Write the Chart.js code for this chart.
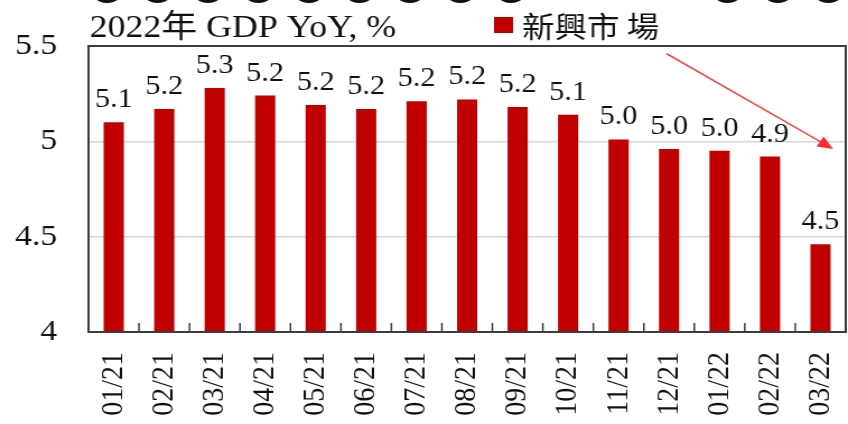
<!DOCTYPE html>
<html>
<head>
<meta charset="utf-8">
<script src="https://cdn.jsdelivr.net/npm/chart.js@4.4.1/dist/chart.umd.min.js"></script>
<style>
  html, body { margin: 0; padding: 0; background: #fff; overflow: hidden; }
  /* the source picture is a little stretched sideways, so draw narrower and widen */
  #wrap { width: 757px; height: 424px; position: relative; transform: scaleX(1.1202); transform-origin: 0 0; }
</style>
</head>
<body>
<div id="wrap"><canvas id="gdpChart"></canvas></div>
<script>
const months = ['01/21', '02/21', '03/21', '04/21', '05/21', '06/21', '07/21', '08/21',
                '09/21', '10/21', '11/21', '12/21', '01/22', '02/22', '03/22'];
const gdpYoY = [5.10, 5.17, 5.28, 5.24, 5.19, 5.17, 5.21, 5.22, 5.18, 5.14, 5.01, 4.96, 4.95, 4.92, 4.46];
const yTicks = [4, 4.5, 5, 5.5];
const titleText = '2022年 GDP YoY, %';
const seriesName = '新興市 場';
// trend arrow: [category index, value] start and end
const arrowFrom = [10.95, 5.46];
const arrowTo = [14.25, 4.96];

const serif = '"Liberation Serif", "Times New Roman", "Noto Sans CJK TC", serif';
const barRed = '#c00000';

const overlay = {
    id: 'overlay',
    afterDatasetsDraw(chart) {
        const { ctx, chartArea: a, scales: { x, y } } = chart;
        ctx.save();

        // cut-off dots of the panel above, along the top edge
        ctx.fillStyle = '#111';
        months.forEach((m, i) => {
            if (i >= 9 && i <= 11) return;
            const cx = x.getPixelForValue(i) + (i < 9 ? -6 : 7);
            ctx.beginPath();
            ctx.ellipse(cx, -14, 16, 17, 0, 0, Math.PI * 2);
            ctx.fill();
        });

        // frame
        ctx.strokeStyle = '#3c3c3c';
        ctx.lineWidth = 2;
        ctx.strokeRect(a.left, a.top, a.right - a.left, a.bottom - a.top);

        // small inner ticks between categories
        ctx.lineWidth = 1.5;
        ctx.beginPath();
        for (let i = 0; i < months.length - 1; i++) {
            const px = (x.getPixelForValue(i) + x.getPixelForValue(i + 1)) / 2;
            ctx.moveTo(px, a.bottom);
            ctx.lineTo(px, a.bottom - 9);
        }
        ctx.stroke();

        // value labels
        const meta = chart.getDatasetMeta(0);
        ctx.fillStyle = '#111';
        ctx.font = '27px ' + serif;
        ctx.textAlign = 'center';
        ctx.textBaseline = 'alphabetic';
        meta.data.forEach((bar, i) => {
            ctx.fillText(gdpYoY[i].toFixed(1), bar.x, bar.y - 15);
        });

        // trend arrow
        const x1 = x.getPixelForValue(arrowFrom[0]), y1 = y.getPixelForValue(arrowFrom[1]);
        const x2 = x.getPixelForValue(arrowTo[0]), y2 = y.getPixelForValue(arrowTo[1]);
        const ang = Math.atan2(y2 - y1, x2 - x1);
        const head = 15;
        ctx.strokeStyle = '#ff2a2a';
        ctx.fillStyle = '#ff2a2a';
        ctx.lineWidth = 1.4;
        ctx.beginPath();
        ctx.moveTo(x1, y1);
        ctx.lineTo(x2 - head * 0.8 * Math.cos(ang), y2 - head * 0.8 * Math.sin(ang));
        ctx.stroke();
        ctx.beginPath();
        ctx.moveTo(x2, y2);
        ctx.lineTo(x2 - head * Math.cos(ang - 0.4), y2 - head * Math.sin(ang - 0.4));
        ctx.lineTo(x2 - head * Math.cos(ang + 0.4), y2 - head * Math.sin(ang + 0.4));
        ctx.closePath();
        ctx.fill();

        // title and legend
        ctx.fillStyle = '#111';
        ctx.textAlign = 'left';
        ctx.font = '32px ' + serif;
        ctx.fillText(titleText, a.left + 1, 37);
        ctx.fillStyle = barRed;
        ctx.fillRect(441, 17, 17, 16);
        ctx.fillStyle = '#111';
        ctx.font = '29px "Noto Sans CJK TC", serif';
        ctx.fillText(chart.data.datasets[0].label, 466, 38);

        ctx.restore();
    }
};

new Chart(document.getElementById('gdpChart'), {
    type: 'bar',
    data: {
        labels: months,
        datasets: [{
            label: seriesName,
            data: gdpYoY,
            backgroundColor: barRed,
            borderWidth: 0,
            barPercentage: 0.4,
            categoryPercentage: 1.0
        }]
    },
    options: {
        responsive: true,
        maintainAspectRatio: false,
        animation: false,
        layout: { padding: { top: 46, right: 2, left: 0, bottom: 0 } },
        plugins: {
            legend: { display: false },
            tooltip: { enabled: false }
        },
        scales: {
            x: {
                grid: { display: false, drawTicks: false },
                border: { display: false },
                ticks: {
                    autoSkip: false,
                    minRotation: 90,
                    maxRotation: 90,
                    padding: 20,
                    color: '#111',
                    font: { family: serif, size: 28 }
                },
                afterFit: (scale) => {
                    scale.height = 92;
                    scale.paddingLeft = 0;
                    scale.paddingRight = 0;
                }
            },
            y: {
                min: yTicks[0],
                max: yTicks[yTicks.length - 1],
                afterBuildTicks: (scale) => { scale.ticks = yTicks.map(v => ({ value: v })); },
                grid: {
                    drawTicks: false,
                    color: (c) => (c.tick && (c.tick.value === 4.5 || c.tick.value === 5)) ? '#d6d6d6' : 'rgba(0,0,0,0)',
                    lineWidth: 1.5
                },
                border: { display: false },
                ticks: {
                    padding: 28,
                    color: '#111',
                    font: { family: serif, size: 30 },
                    callback: (v) => String(v)
                },
                afterFit: (scale) => {
                    scale.width = 79;
                    scale.paddingTop = 0;
                    scale.paddingBottom = 0;
                }
            }
        }
    },
    plugins: [overlay]
});
</script>
</body>
</html>
